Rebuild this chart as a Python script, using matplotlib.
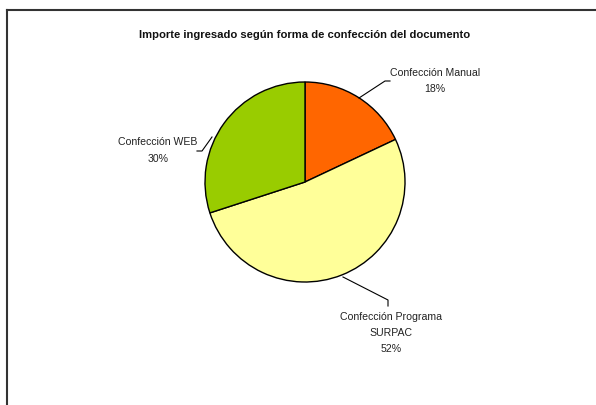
import matplotlib.pyplot as plt
from matplotlib.lines import Line2D

plt.rcParams['font.family'] = ['Liberation Sans Narrow', 'Liberation Sans', 'DejaVu Sans']

# datos
etiquetas = ['Confección Manual', 'Confección Programa\nSURPAC', 'Confección WEB']
porcentajes = [18, 52, 30]
colores = ['#FF6600', '#FFFF99', '#99CC00']
titulo = 'Importe ingresado según forma de confección del documento'

W, H = 596, 405
fig = plt.figure(figsize=(W / 100, H / 100), dpi=100)
ax = fig.add_axes([0, 0, 1, 1])

# centro y radio en pixeles (eje y hacia arriba)
cx, cy, r = 305, H - 182, 100
ax.pie(porcentajes, colors=colores, startangle=90, counterclock=False,
       center=(cx, cy), radius=r,
       wedgeprops=dict(edgecolor='black', linewidth=1.0))
ax.set_xlim(0, W)
ax.set_ylim(0, H)
ax.set_aspect('equal')
ax.axis('off')

ax.text(305, H - 35, titulo, ha='center', va='center', fontsize=8.1,
        fontweight='bold', color='#111111')

# posiciones de etiquetas y lineas guia (pixeles desde arriba)
pos_texto = [(435, 81), (391, 333), (158, 150.5)]
guias = [[(359, 98), (385, 81), (390, 81)],
         [(343, 277), (388, 300), (388, 306)],
         [(212, 137), (202, 151), (197, 151)]]

for et, p, (tx, ty), g in zip(etiquetas, porcentajes, pos_texto, guias):
    ax.text(tx, H - ty, f'{et}\n{p}%', ha='center', va='center',
            fontsize=7.6, color='#222222', linespacing=1.8)
    xs = [q[0] for q in g]
    ys = [H - q[1] for q in g]
    ax.plot(xs, ys, color='black', lw=0.8)

# marco del grafico (solo izquierda y arriba visibles)
fig.add_artist(Line2D([7.5 / W, 7.5 / W], [0, 1 - 10 / H], color='#333333',
                      lw=1.5, transform=fig.transFigure))
fig.add_artist(Line2D([7 / W, 1], [1 - 10 / H, 1 - 10 / H], color='#333333',
                      lw=1.5, transform=fig.transFigure))

plt.savefig('out.png', dpi=100)
